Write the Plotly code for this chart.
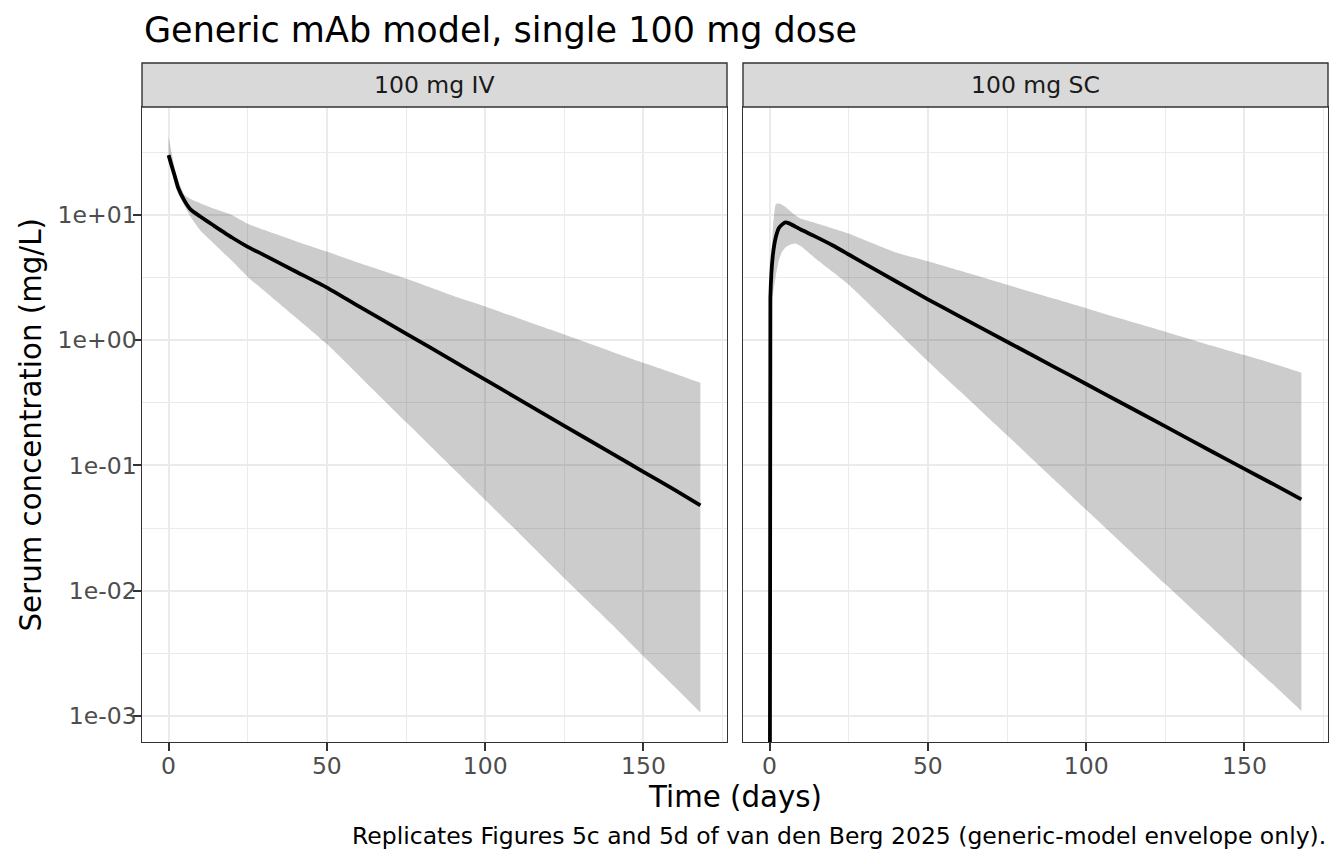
import plotly.graph_objects as go

# ---------------- data ----------------
iv_time = [0, 1, 2, 3, 5, 7, 10, 14, 20, 25, 30, 40, 50, 60, 75, 90, 100, 110, 125, 140, 150, 160, 168]
iv_median = [30, 24.5, 20.2, 16.5, 13.0, 11.0, 9.7, 8.3, 6.6, 5.56, 4.8, 3.55, 2.63, 1.87, 1.13, 0.68, 0.484,
             0.345, 0.207, 0.125, 0.089, 0.0635, 0.048]
iv_upper = [42, 31, 23, 19, 14.5, 13.4, 12.4, 11.3, 10.0, 8.5, 7.6, 6.2, 5.1, 4.15, 3.1, 2.25, 1.86,
            1.51, 1.11, 0.81, 0.66, 0.54, 0.457]
iv_lower = [27, 23, 17.5, 14.8, 11.8, 9.6, 7.5, 6.0, 4.3, 3.2, 2.5, 1.53, 0.93, 0.526, 0.222, 0.094, 0.053,
            0.030, 0.0126, 0.0054, 0.0030, 0.0017, 0.00107]

sc_time = [0, 0.25, 1, 2, 3, 4, 5, 6, 8, 10, 14, 20, 25, 30, 40, 50, 60, 75, 90, 100, 110, 125, 140, 150, 160, 168]
sc_median = [1e-6, 2.2, 4.7, 6.7, 7.9, 8.4, 8.7, 8.6, 8.1, 7.6, 6.8, 5.7, 4.83, 4.09, 2.94, 2.12, 1.55, 0.972,
             0.61, 0.447, 0.327, 0.205, 0.128, 0.094, 0.069, 0.0537]
band_sc_time = sc_time[1:]
sc_upper = [3.0, 7.5, 12.2, 12.3, 12.0, 11.6, 11.0, 10.0, 9.3, 8.7, 7.8, 7.1, 6.3, 5.0, 4.26, 3.59, 2.77,
            2.14, 1.80, 1.51, 1.17, 0.90, 0.76, 0.64, 0.55]
sc_lower = [1.5, 2.3, 3.3, 4.4, 5.1, 5.5, 5.7, 5.9, 5.6, 4.6, 3.5, 2.77, 2.1, 1.19, 0.68, 0.394, 0.174,
            0.0766, 0.0443, 0.0257, 0.0113, 0.0050, 0.0029, 0.0017, 0.0011]

panels = ["100 mg IV", "100 mg SC"]
y_tick_vals = [0.001, 0.01, 0.1, 1, 10]
y_tick_text = ["1e-03", "1e-02", "1e-01", "1e+00", "1e+01"]
y_minor_vals = [10 ** -2.5, 10 ** -1.5, 10 ** -0.5, 10 ** 0.5, 10 ** 1.5]
x_tick_vals = [0, 50, 100, 150]
x_minor_vals = [25, 75, 125, 175]

title_text = "Generic mAb model, single 100 mg dose"
x_title = "Time (days)"
y_title = "Serum concentration (mg/L)"
caption = "Replicates Figures 5c and 5d of van den Berg 2025 (generic-model envelope only)."

# ---------------- figure ----------------
FONT = "DejaVu Sans"
OFF = 8  # page body margin
W, H = 1344 - OFF, 864 - OFF
# target panel box in page pixels
P_L, P_R, P_T, P_B = 142, 1328, 107, 742.5
ML, MR, MT, MB = P_L - OFF, W - (P_R - OFF), P_T - OFF, H - (P_B - OFF)
plot_w = P_R - P_L
plot_h = P_B - P_T
dom1 = [0, 585 / plot_w]
dom2 = [601 / plot_w, 1]

fig = go.Figure()
BAND = "rgba(0,0,0,0.2)"

def add_panel(xa, ya, t_band, up, lo, t_med, med):
    fig.add_trace(go.Scatter(x=t_band, y=up, mode="lines",
                             line=dict(width=0, color=BAND, shape="spline", smoothing=0.5),
                             xaxis=xa, yaxis=ya, showlegend=False, hoverinfo="skip"))
    fig.add_trace(go.Scatter(x=t_band, y=lo, mode="lines",
                             line=dict(width=0, color=BAND, shape="spline", smoothing=0.5),
                             fill="tonexty", fillcolor=BAND,
                             xaxis=xa, yaxis=ya, showlegend=False, hoverinfo="skip"))
    fig.add_trace(go.Scatter(x=t_med, y=med, mode="lines",
                             line=dict(width=3.8, color="black", shape="spline", smoothing=0.5),
                             xaxis=xa, yaxis=ya, showlegend=False))

add_panel("x", "y", iv_time, iv_upper, iv_lower, iv_time, iv_median)
add_panel("x2", "y2", band_sc_time, sc_upper, sc_lower, sc_time, sc_median)

common_x = dict(range=[-8.4, 176.4], tickmode="array", tickvals=x_tick_vals,
                showgrid=True, gridcolor="#EBEBEB", gridwidth=2.2,
                minor=dict(tickmode="array", tickvals=x_minor_vals, showgrid=True,
                           gridcolor="#EBEBEB", gridwidth=1.1, ticklen=0),
                ticks="outside", ticklen=7.5, tickwidth=2, tickcolor="#333333",
                ticklabelstandoff=-5,
                tickfont=dict(family=FONT, size=23.5, color="#4D4D4D"),
                showline=True, mirror=True, linecolor="#333333", linewidth=1.4,
                zeroline=False)
common_y = dict(type="log", range=[-3.207, 1.861], tickmode="array",
                tickvals=y_tick_vals, ticktext=y_tick_text,
                showgrid=True, gridcolor="#EBEBEB", gridwidth=2.2,
                minor=dict(tickmode="array", tickvals=y_minor_vals, showgrid=True,
                           gridcolor="#EBEBEB", gridwidth=1.1, ticklen=0),
                ticks="outside", ticklen=7.5, tickwidth=2, tickcolor="#333333",
                ticklabelstandoff=-8,
                tickfont=dict(family=FONT, size=23.5, color="#4D4D4D"),
                showline=True, mirror=True, linecolor="#333333", linewidth=1.4,
                zeroline=False)

xa1 = dict(common_x); xa1.update(domain=dom1, anchor="y")
xa2 = dict(common_x); xa2.update(domain=dom2, anchor="y2")
ya1 = dict(common_y); ya1.update(domain=[0, 1], anchor="x")
ya2 = dict(common_y); ya2.update(domain=[0, 1], anchor="x2", showticklabels=False, ticks="")

fig.update_layout(xaxis=xa1, xaxis2=xa2, yaxis=ya1, yaxis2=ya2)

def py(px):
    return (P_B - px) / plot_h

def pxx(px):
    return (px - P_L) / plot_w

strip_h = 44 / plot_h
shapes = []
annotations = []
for dom, label in zip([dom1, dom2], panels):
    shapes.append(dict(type="rect", xref="paper", yref="paper", x0=dom[0], x1=dom[1],
                       y0=1, y1=1 + strip_h, fillcolor="#D9D9D9",
                       line=dict(color="#333333", width=1.4), layer="above"))
    annotations.append(dict(text=label, xref="paper", yref="paper", x=(dom[0] + dom[1]) / 2,
                            y=1 + strip_h / 2, xanchor="center", yanchor="middle", showarrow=False,
                            font=dict(family=FONT, size=23.5, color="#1A1A1A")))

annotations.append(dict(text=title_text, xref="paper", yref="paper", x=0, y=py(30),
                        xanchor="left", yanchor="middle", showarrow=False,
                        font=dict(family=FONT, size=35, color="black")))
annotations.append(dict(text=x_title, xref="paper", yref="paper", x=0.5, y=py(798),
                        xanchor="center", yanchor="middle", showarrow=False,
                        font=dict(family=FONT, size=29.3, color="black")))
annotations.append(dict(text=y_title, xref="paper", yref="paper", x=pxx(30), y=0.5,
                        xanchor="center", yanchor="middle", showarrow=False, textangle=-90,
                        font=dict(family=FONT, size=29.3, color="black")))
annotations.append(dict(text=caption, xref="paper", yref="paper", x=1, y=py(837),
                        xanchor="right", yanchor="middle", showarrow=False,
                        font=dict(family=FONT, size=23.5, color="black")))

fig.update_layout(width=W, height=H, autosize=False,
                  margin=dict(l=ML, r=MR, t=MT, b=MB, pad=0),
                  paper_bgcolor="white", plot_bgcolor="white",
                  shapes=shapes, annotations=annotations, showlegend=False,
                  font=dict(family=FONT))

fig.write_html("out.html")
